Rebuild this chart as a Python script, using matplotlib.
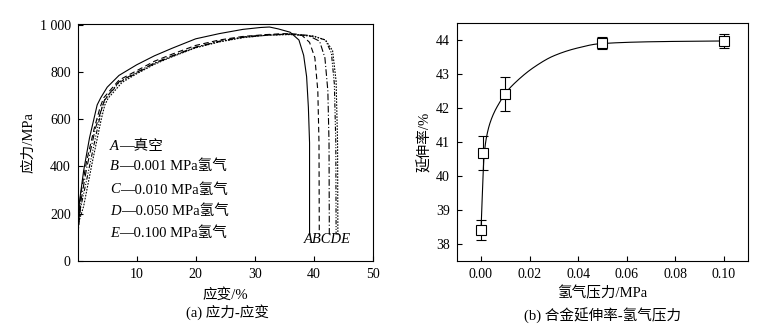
import numpy as np
import matplotlib
matplotlib.use("Agg")
import matplotlib.pyplot as plt

plt.rcParams['font.family'] = ['Liberation Serif', 'Noto Sans CJK SC']
plt.rcParams['axes.unicode_minus'] = False

# ---------------- data: (a) stress-strain ----------------
strain_A = [0, 0.3, 1.0, 2.0, 3.3, 3.9, 5.0, 7.0, 10, 13, 16, 20, 24, 28, 31, 32.5, 34, 36, 37.5, 38.3, 38.8, 39.1, 39.3, 39.3]
stress_A = [100, 250, 380, 520, 660, 690, 735, 785, 830, 868, 900, 940, 962, 980, 988, 990, 982, 968, 935, 870, 780, 650, 500, 110]

strain_B = [0, 0.5, 1.5, 2.8, 3.8, 4.4, 5.5, 7, 10, 13, 16, 20, 24, 28, 32, 35, 37, 38, 39.3, 40.2, 40.7, 40.9, 40.95]
stress_B = [100, 280, 420, 560, 650, 690, 722, 765, 805, 845, 875, 912, 935, 950, 958, 962, 960, 955, 925, 860, 720, 500, 110]

strain_C = [0, 0.6, 1.5, 3.0, 4.0, 4.6, 5.5, 7, 10, 13, 16, 20, 24, 28, 32, 36, 39, 41, 41.9, 42.4, 42.6, 42.65]
stress_C = [100, 260, 390, 560, 640, 685, 712, 758, 798, 838, 868, 905, 930, 948, 957, 960, 955, 930, 860, 720, 500, 110]

strain_D = [0, 0.4, 1.5, 3.0, 4.1, 4.7, 5.5, 7, 10, 13, 16, 20, 24, 28, 32, 36, 40, 42, 43, 43.5, 43.75, 43.8]
stress_D = [150, 214, 340, 520, 648, 685, 708, 755, 795, 835, 866, 903, 928, 946, 955, 960, 950, 935, 880, 750, 500, 110]

strain_E = [0, 1.0, 2.5, 4.0, 4.6, 5.2, 6, 7.5, 10, 13, 16, 20, 24, 28, 32, 36, 40, 42, 43.2, 43.8, 44.05, 44.1]
stress_E = [150, 230, 420, 600, 660, 690, 712, 755, 792, 832, 864, 902, 927, 945, 955, 958, 952, 935, 890, 760, 500, 110]

legend_letters = ['A', 'B', 'C', 'D', 'E']
legend_texts = ['—真空', '—0.001 MPa氢气', '—0.010 MPa氢气', '—0.050 MPa氢气', '—0.100 MPa氢气']

# ---------------- data: (b) elongation vs H2 pressure ----------------
pressure = [0.0, 0.001, 0.01, 0.05, 0.10]
elong = [38.4, 40.68, 42.42, 43.91, 43.97]
elong_err = [0.3, 0.5, 0.5, 0.19, 0.2]

fit_x = [0, 0.0013, 0.0025, 0.0045, 0.008, 0.0103, 0.0148, 0.0217, 0.0299, 0.0396, 0.049, 0.0725, 0.1]
fit_y = [38.36, 40.6, 41.22, 41.71, 42.2, 42.45, 42.79, 43.19, 43.53, 43.76, 43.89, 43.95, 43.97]


def pchip(x, y, xs):
    x = np.asarray(x, float); y = np.asarray(y, float)
    h = np.diff(x); d = np.diff(y) / h
    m = np.zeros_like(y)
    m[0] = d[0]; m[-1] = d[-1]
    for k in range(1, len(x) - 1):
        if d[k - 1] * d[k] > 0:
            w1 = 2 * h[k] + h[k - 1]; w2 = h[k] + 2 * h[k - 1]
            m[k] = (w1 + w2) / (w1 / d[k - 1] + w2 / d[k])
    idx = np.clip(np.searchsorted(x, xs) - 1, 0, len(x) - 2)
    t = (xs - x[idx]) / h[idx]
    h00 = 2 * t**3 - 3 * t**2 + 1; h10 = t**3 - 2 * t**2 + t
    h01 = -2 * t**3 + 3 * t**2; h11 = t**3 - t**2
    return h00 * y[idx] + h10 * h[idx] * m[idx] + h01 * y[idx + 1] + h11 * h[idx] * m[idx + 1]


fig = plt.figure(figsize=(7.8, 3.28), dpi=100)
ax1 = fig.add_axes([0.0996, 0.205, 0.3782, 0.722])
ax2 = fig.add_axes([0.5855, 0.205, 0.3735, 0.725])

FS = 10
FL = 10.5
lw = 0.8
ax1.plot(strain_A, stress_A, color='black', lw=lw, ls='-')
ax1.plot(strain_B, stress_B, color='black', lw=lw, ls=(0, (5, 3)))
ax1.plot(strain_C, stress_C, color='black', lw=lw, ls=(0, (6, 2, 1, 2)))
ax1.plot(strain_D, stress_D, color='black', lw=lw, ls=(0, (4, 1.5, 1, 1.5, 1, 1.5)))
ax1.plot(strain_E, stress_E, color='black', lw=lw, ls=(0, (1.5, 1.2)))

ax1.set_xlim(0, 50)
ax1.set_ylim(0, 1003)
ax1.set_xticks([10, 20, 30, 40, 50])
ax1.set_yticks([0, 200, 400, 600, 800, 1000])
ax1.set_yticklabels(['0', '200', '400', '600', '800', '1 000'])

leg_y = [484, 399, 300, 208, 117]
for letter, txt, yy in zip(legend_letters, legend_texts, leg_y):
    t = ax1.text(5.5, yy, letter, fontsize=FL, style='italic', ha='left', va='center')
    ax1.annotate(txt, xy=(1, 0.5), xycoords=t, fontsize=FL, ha='left', va='center')

ax1.text(38.3, 92, 'ABCDE', fontsize=FL, style='italic', ha='left', va='center')

ax1.set_xlabel('应变/%', fontsize=FL, labelpad=5)
ax1.set_ylabel('应力/MPa', fontsize=FL, labelpad=3)

# (b)
xs = np.linspace(0, 0.1, 600)
ax2.plot(xs, pchip(fit_x, fit_y, xs), color='black', lw=0.8)
ax2.errorbar(pressure, elong, yerr=elong_err, fmt='s', mfc='white', mec='black',
             ms=7, mew=0.8, ecolor='black', elinewidth=0.8, capsize=3.5, capthick=0.8, zorder=3)
ax2.set_xlim(-0.01, 0.11)
ax2.set_ylim(37.5, 44.5)
ax2.set_xticks([0.0, 0.02, 0.04, 0.06, 0.08, 0.10])
ax2.set_xticklabels(['0.00', '0.02', '0.04', '0.06', '0.08', '0.10'])
ax2.set_yticks([38, 39, 40, 41, 42, 43, 44])
ax2.set_xlabel('氢气压力/MPa', fontsize=FL, labelpad=4)
ax2.set_ylabel('延伸率/%', fontsize=FL, labelpad=3)

for ax in (ax1, ax2):
    ax.tick_params(direction='in', length=3.6, width=0.8, labelsize=FS, pad=5, top=False, right=False)
    for s in ax.spines.values():
        s.set_linewidth(0.8)

fig.text(227 / 780, 1 - 312 / 328, '(a) 应力-应变', fontsize=FL, ha='center', va='center')
fig.text(603 / 780, 1 - 316 / 328, '(b) 合金延伸率-氢气压力', fontsize=FL, ha='center', va='center')

fig.savefig('out.png', dpi=100)
